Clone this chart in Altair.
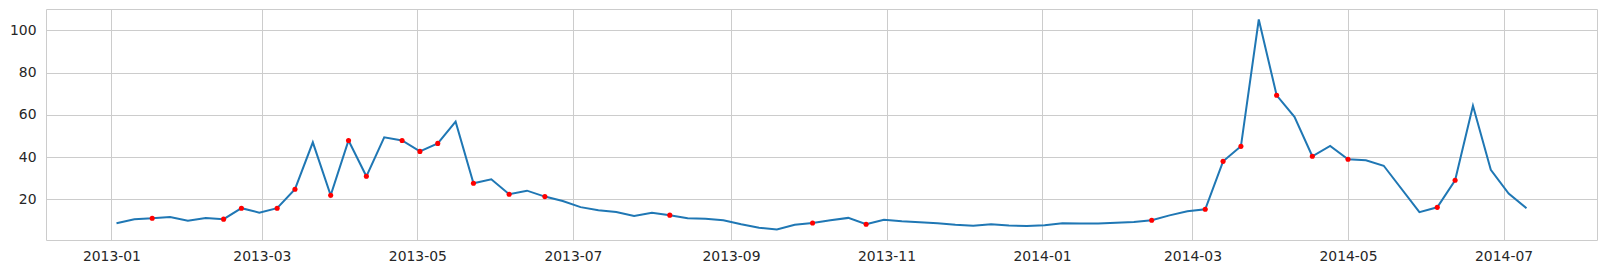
import altair as alt
import pandas as pd

# weekly observations (week index from 2013-01-03); week 72 absent
week_index = list(range(0, 72)) + list(range(73, 80))
values = [
    8.7, 10.6, 11.0, 11.6, 9.9, 11.2, 10.6, 15.8, 13.7, 15.8,
    24.8, 47.0, 21.9, 47.9, 30.9, 49.4, 47.9, 42.7, 46.5, 56.8,
    27.6, 29.5, 22.4, 24.1, 21.3, 19.2, 16.3, 14.8, 14.0, 12.1,
    13.6, 12.5, 11.0, 10.8, 10.1, 8.2, 6.5, 5.7, 7.9, 8.8,
    10.1, 11.2, 8.2, 10.3, 9.6, 9.1, 8.7, 8.0, 7.5, 8.2,
    7.6, 7.4, 7.7, 8.7, 8.5, 8.5, 8.9, 9.3, 10.1, 12.4,
    14.3, 15.3, 38.0, 45.1, 105.2, 69.3, 59.1, 40.4, 45.3, 39.0,
    38.5, 35.9, 13.9, 16.2, 29.0, 64.3, 34.0, 22.7, 15.8,
]
flagged_weeks = [2, 6, 7, 9, 10, 12, 13, 14, 16, 17, 18, 20, 22, 24, 31, 39,
                 42, 58, 61, 62, 63, 65, 67, 69, 74, 75]
tick_months = [(2013, 1), (2013, 3), (2013, 5), (2013, 7), (2013, 9), (2013, 11),
               (2014, 1), (2014, 3), (2014, 5), (2014, 7)]
y_ticks = [20, 40, 60, 80, 100]

start = pd.Timestamp("2013-01-03")
dates = [start + pd.Timedelta(days=7 * k) for k in week_index]
df = pd.DataFrame({
    "date": [d.strftime("%Y-%m-%dT00:00:00") for d in dates],
    "value": values,
    "flag": [k in flagged_weeks for k in week_index],
})

# matplotlib-like 5% margins
span = dates[-1] - dates[0]
lo = dates[0] - span * 0.05
hi = dates[-1] + span * 0.05
vmin, vmax = min(values), max(values)
vr = vmax - vmin
ydom = [vmin - 0.05 * vr, vmax + 0.05 * vr]

def dt(t):
    return alt.DateTime(year=t.year, month=t.month, date=t.day,
                        hours=t.hour, minutes=t.minute)

x_enc = alt.X(
    "date:T",
    scale=alt.Scale(domain=[dt(lo), dt(hi)], nice=False),
    axis=alt.Axis(
        values=[alt.DateTime(year=y, month=m, date=1) for y, m in tick_months],
        format="%Y-%m", title=None, ticks=False, domain=False,
        labelPadding=9, gridColor="#cccccc", gridWidth=1,
    ),
)
y_enc = alt.Y(
    "value:Q",
    scale=alt.Scale(domain=ydom, nice=False, zero=False),
    axis=alt.Axis(values=y_ticks, title=None, ticks=False, domain=False,
                  labelPadding=10, gridColor="#cccccc", gridWidth=1),
)

line = alt.Chart(df).mark_line(color="#1f77b4", strokeWidth=2).encode(x=x_enc, y=y_enc)
pts = alt.Chart(df).transform_filter("datum.flag").mark_circle(
    color="#ff0000", size=26, opacity=1
).encode(x=x_enc, y=y_enc)

chart = (line + pts).properties(
    width=1551, height=231,
    autosize=alt.AutoSizeParams(type="none"),
    padding={"left": 46, "top": 9, "right": 9, "bottom": 34},
    background="white",
).configure_view(stroke="#cccccc", strokeWidth=1).configure_axis(
    labelFont="DejaVu Sans", labelFontSize=13.9, labelColor="#262626",
)

chart.save("out.html", embed_options={"renderer": "svg", "actions": False})
